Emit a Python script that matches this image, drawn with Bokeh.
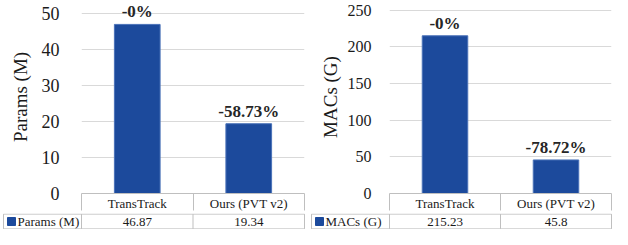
from bokeh.plotting import figure
from bokeh.layouts import row, column
from bokeh.models import Range1d, FixedTicker, ColumnDataSource, LabelSet
from bokeh.embed import file_html
from bokeh.resources import INLINE
from bokeh.core.properties import value

# ---- data ----
categories = ["TransTrack", "Ours (PVT v2)"]
params_name = "Params (M)"
params_values = [46.87, 19.34]
params_cells = ["46.87", "19.34"]
params_labels = ["-0%", "-58.73%"]
params_ticks = [0, 10, 20, 30, 40, 50]

macs_name = "MACs (G)"
macs_values = [215.23, 45.8]
macs_cells = ["215.23", "45.8"]
macs_labels = ["-0%", "-78.72%"]
macs_ticks = [0, 50, 100, 150, 200, 250]

# ---- style / layout ----
FONT = "Liberation Serif"
BAR = "#1c4a9c"
BAR_EDGE = "#4a72b8"
GRID = "#d9d9d9"
BORDER = "#bfbfbf"
TXT = "#1a1a1a"
CELL = 78        # width of the legend cell / axis area
FRAME_H = 196
ROW1 = 17
ROW2 = 16


def panel(name, vals, cells, labels, ticks, ymax, width, off,
          tick_size, tick_standoff, label_standoff):
    n = len(categories)
    xs = [i + 0.5 for i in range(n)]
    unit = (width - 1 - off - CELL) / n

    p = figure(width=width, height=FRAME_H + ROW1, x_range=Range1d(0, n),
               y_range=Range1d(0, ymax), output_backend="svg", toolbar_location=None,
               min_border_left=off + CELL, min_border_right=1, min_border_top=0,
               min_border_bottom=ROW1, frame_align=False)
    p.outline_line_color = None
    p.background_fill_color = "white"
    p.border_fill_color = "white"
    p.xgrid.visible = False
    p.ygrid.ticker = FixedTicker(ticks=ticks)
    p.ygrid.grid_line_color = GRID
    p.ygrid.grid_line_width = 1

    ax = p.yaxis[0]
    ax.ticker = FixedTicker(ticks=ticks)
    ax.axis_line_color = None
    ax.major_tick_line_color = None
    ax.minor_tick_line_color = None
    ax.major_label_text_font = FONT
    ax.major_label_text_font_size = tick_size
    ax.major_label_text_color = TXT
    ax.major_label_standoff = tick_standoff
    ax.axis_label = name
    ax.axis_label_text_font = FONT
    ax.axis_label_text_font_size = "19px"
    ax.axis_label_text_font_style = "normal"
    ax.axis_label_text_color = TXT
    ax.axis_label_standoff = label_standoff

    # first table row = category axis (cell borders drawn as minor ticks)
    xa = p.xaxis[0]
    xa.ticker = FixedTicker(ticks=xs, minor_ticks=list(range(n + 1)))
    xa.major_label_overrides = {x: c for x, c in zip(xs, categories)}
    xa.major_tick_line_color = None
    xa.major_tick_out = 0
    xa.major_tick_in = 0
    xa.minor_tick_line_color = BORDER
    xa.minor_tick_out = ROW1
    xa.minor_tick_in = 0
    xa.axis_line_color = BORDER
    xa.major_label_standoff = -ROW1 + 2
    xa.major_label_text_font = FONT
    xa.major_label_text_font_size = "13px"
    xa.major_label_text_color = TXT

    src = ColumnDataSource(dict(x=xs, top=vals, lab=labels))
    p.vbar(x="x", top="top", width=0.41, source=src, fill_color=BAR,
           line_color=BAR_EDGE, line_width=1)
    p.add_layout(LabelSet(x="x", y="top", text="lab", source=src, y_offset=7,
                          text_align="center", text_baseline="alphabetic",
                          text_font=value(FONT), text_font_size="17px",
                          text_font_style="bold", text_color="#262626"))

    # second table row: legend cell + values
    L = CELL / unit
    t = figure(width=width, height=ROW2, x_range=Range1d(-L - off / unit, n + 1 / unit),
               y_range=Range1d(-0.04, 1.04), output_backend="svg", toolbar_location=None,
               x_axis_location=None, y_axis_location=None, frame_align=False,
               min_border_left=0, min_border_right=0, min_border_top=0, min_border_bottom=0)
    t.outline_line_color = None
    t.xgrid.visible = False
    t.ygrid.visible = False
    t.background_fill_color = "white"
    t.border_fill_color = "white"
    t.segment(x0=[-L, -L], y0=[1, 0], x1=[n, n], y1=[1, 0],
              line_color=BORDER, line_width=1)
    vx = [-L] + list(range(n + 1))
    t.segment(x0=vx, y0=[0] * len(vx), x1=vx, y1=[1] * len(vx),
              line_color=BORDER, line_width=1)
    t.text(x=xs, y=[0.5] * n, text=cells, text_align="center", text_baseline="middle",
           text_font=value(FONT), text_font_size="13px", text_color=TXT)
    t.scatter(x=[-L + 8 / unit], y=[0.5], marker="square", size=8, fill_color=BAR,
              line_color=BAR)
    t.text(x=[-L + 14 / unit], y=[0.5], text=[name], text_align="left",
           text_baseline="middle", text_font=value(FONT), text_font_size="13px",
           text_color=TXT)
    return column(p, t, spacing=0)


left = panel(params_name, params_values, params_cells, params_labels, params_ticks,
             53.5, 305, 3, "18px", 16, 8)
right = panel(macs_name, macs_values, macs_cells, macs_labels, macs_ticks,
              263.4, 302, 1, "16px", 12, 4)
layout = row(left, right, spacing=5)

open("out.html", "w").write(file_html(layout, INLINE))
